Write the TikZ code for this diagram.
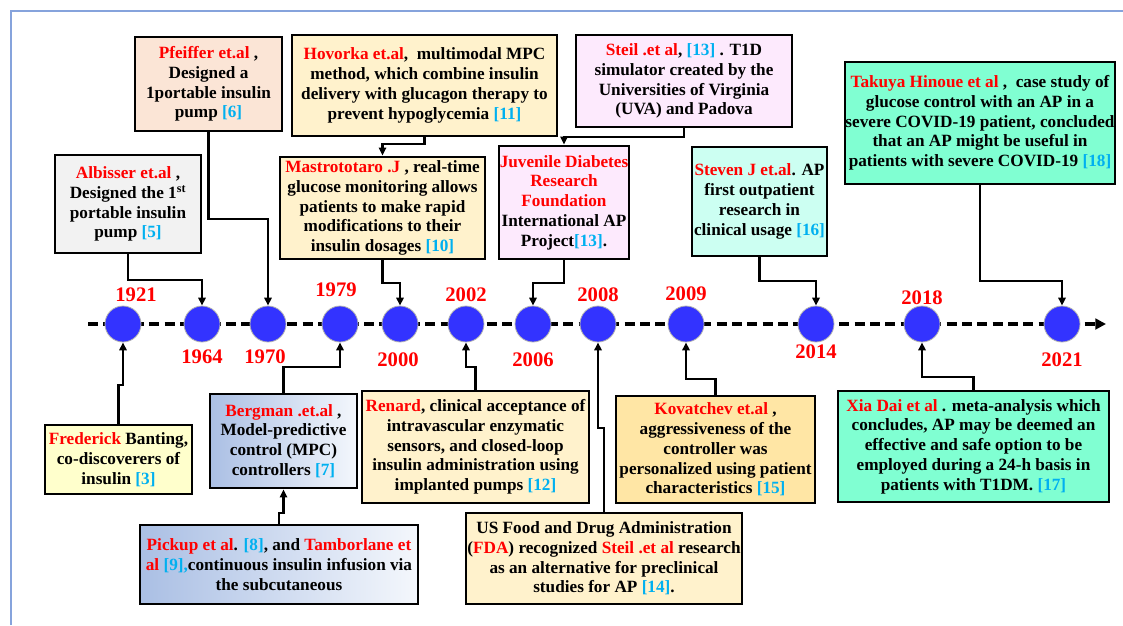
\documentclass[tikz,border=0pt]{standalone}
\usepackage{fontspec}
\setmainfont{Liberation Serif}
\usetikzlibrary{arrows.meta}

\definecolor{tred}{HTML}{FF0000}
\definecolor{tblue}{HTML}{00B0F0}
\definecolor{dotblue}{HTML}{3333FF}
\definecolor{frameblue}{HTML}{86A3DC}
\definecolor{peach}{HTML}{FBE5D6}
\definecolor{lgray}{HTML}{F2F2F2}
\definecolor{beige}{HTML}{FFF2CC}
\definecolor{pinkish}{HTML}{FDEAFD}
\definecolor{paleaqua}{HTML}{CCFFF2}
\definecolor{aqua}{HTML}{80FFD2}
\definecolor{gold}{HTML}{FFE6A5}
\definecolor{lyellow}{HTML}{FFFFCC}
\definecolor{steelA}{HTML}{AABFE4}
\definecolor{steelB}{HTML}{F4F7FC}

\newcommand\nm[1]{\textcolor{tred}{#1}}
\newcommand\refno[1]{\textcolor{tblue}{#1}}

\tikzset{
  box/.style={draw=black, line width=2.2pt, inner sep=0pt, align=center,
    font=\bfseries\fontsize{12.9}{14.8}\selectfont},
  sz/.style 2 args={minimum width=#1*0.75pt, minimum height=#2*0.75pt},
  conn/.style={line width=2.1pt, -{Triangle[length=6pt,width=5.5pt]}},
  dot/.style={circle, fill=dotblue, draw=gray!60, line width=0.6pt,
    minimum size=27pt, inner sep=0pt},
  yr/.style={text=tred, font=\bfseries\fontsize{15.5}{18}\selectfont, inner sep=0pt},
  timeline/.style={line width=3pt, dash pattern=on 7.5pt off 4pt,
    -{Triangle[length=8pt,width=8pt]}},
  frame/.style={draw=frameblue, line width=1.3pt},
}

\begin{document}
\begin{tikzpicture}[x=0.75pt,y=-0.75pt]
\useasboundingbox (0,0) rectangle (1123,625);

% open frame
\draw[frame] (11,625) -- (11,11) -- (1123,11);

% time axis
\coordinate (tl0) at (88,324);
\coordinate (tl1) at (1106,324);
\draw[timeline] (tl0) -- (tl1);

% year markers
\foreach \yy/\xx in {1921/123,1964/202,1970/268,1979/340,2000/400,2002/466,
                     2006/533,2008/598,2009/686,2014/816,2018/922,2021/1062}
  \node[dot] (c\yy) at (\xx,324) {};

% year labels
\node[yr] (y1921) at (136,295) {1921};
\node[yr] (y1964) at (202,357) {1964};
\node[yr] (y1970) at (265,357) {1970};
\node[yr] (y1979) at (336,290) {1979};
\node[yr] (y2000) at (398,360) {2000};
\node[yr] (y2002) at (466,295) {2002};
\node[yr] (y2006) at (533,360) {2006};
\node[yr] (y2008) at (598,295) {2008};
\node[yr] (y2009) at (686,294) {2009};
\node[yr] (y2014) at (816,352) {2014};
\node[yr] (y2018) at (922,298) {2018};
\node[yr] (y2021) at (1062,360) {2021};

% events above the axis
\node[box, sz={147}{94}, fill=peach] (pf) at (208.5,84)
  {\nm{Pfeiffer et.al} ,\\ Designed a\\ 1portable insulin\\ pump \refno{[6]}};
\node[box, sz={146}{98}, fill=lgray] (alb) at (128,204)
  {\nm{Albisser et.al} ,\\ Designed the 1\textsuperscript{st}\\ portable insulin\\ pump \refno{[5]}};
\node[box, sz={265}{101}, fill=beige] (hov) at (424.5,85.5)
  {\nm{Hovorka et.al},\ \ multimodal MPC\\ method, which combine insulin\\ delivery with glucagon therapy to\\ prevent hypoglycemia \refno{[11]}};
\node[box, sz={205}{102}, fill=beige] (mas) at (382.5,208)
  {\nm{Mastrototaro .J} , real-time\\ glucose monitoring allows\\ patients to make rapid\\ modifications to their\\ insulin dosages \refno{[10]}};
\node[box, sz={216}{92}, fill=pinkish] (steil) at (684,81)
  {\nm{Steil .et al}, \refno{[13]} . T1D\\ simulator created by the\\ Universities of Virginia\\ (UVA) and Padova};
\node[box, sz={130}{113}, fill=pinkish] (jdrf) at (564,202.5)
  {\nm{Juvenile Diabetes}\\ \nm{Research}\\ \nm{Foundation}\\ International AP\\ Project\refno{[13]}.};
\node[box, sz={135}{109}, fill=paleaqua] (steven) at (759.5,201.5)
  {\nm{Steven J et.al}. AP\\ first outpatient\\ research in\\ clinical usage \refno{[16]}};
\node[box, sz={270}{122}, fill=aqua] (tak) at (980,123)
  {\nm{Takuya Hinoue et al} ,\ \ case study of\\ glucose control with an AP in a\\ severe COVID-19 patient, concluded\\ that an AP might be useful in\\ patients with severe COVID-19 \refno{[18]}};

% events below the axis
\node[box, sz={147}{69}, fill=lyellow] (fred) at (118.5,459.5)
  {\nm{Frederick} Banting,\\ co-discoverers of\\ insulin \refno{[3]}};
\node[box, sz={147}{94}, left color=steelA, right color=steelB] (berg) at (283.5,441)
  {\nm{Bergman .et.al} ,\\ Model-predictive\\ control (MPC)\\ controllers \refno{[7]}};
\node[box, sz={278}{79}, left color=steelA, right color=steelB] (pick) at (279,564.5)
  {\nm{Pickup et al}. \refno{[8]}, and \nm{Tamborlane et}\\ \nm{al} \refno{[9],}continuous insulin infusion via\\ the subcutaneous};
\node[box, sz={227}{112}, fill=beige] (ren) at (475.5,447)
  {\nm{Renard}, clinical acceptance of\\ intravascular enzymatic\\ sensors, and closed-loop\\ insulin administration using\\ implanted pumps \refno{[12]}};
\node[box, sz={276}{91}, fill=beige] (fda) at (604,558.5)
  {US Food and Drug Administration\\ (\nm{FDA}) recognized \nm{Steil .et al} research\\ as an alternative for preclinical\\ studies for AP \refno{[14]}.};
\node[box, sz={199}{107}, fill=gold] (kov) at (715.5,449.5)
  {\nm{Kovatchev et.al} ,\\ aggressiveness of the\\ controller was\\ personalized using patient\\ characteristics \refno{[15]}};
\node[box, sz={271}{111}, fill=aqua] (xia) at (973.5,446.5)
  {\nm{Xia Dai et al} . meta-analysis which\\ concludes, AP may be deemed an\\ effective and safe option to be\\ employed during a 24-h basis in\\ patients with T1DM. \refno{[17]}};

% connectors from the upper events
\draw[conn] (alb.south) -- (alb.south |- 0,280) -| (c1964.north);
\draw[conn] (pf.south) -- (pf.south |- 0,219) -| (c1970.north);
\draw[conn] (hov.south) -- (hov.south |- 0,144) -| (mas.north);
\draw[conn] (mas.south) -- (mas.south |- 0,283) -| (c2000.north);
\draw[conn] (steil.south) -- (steil.south |- 0,137) -| (jdrf.north);
\draw[conn] (jdrf.south) -- (jdrf.south |- 0,283) -| (c2006.north);
\draw[conn] (steven.south) -- (steven.south |- 0,281) -| (c2014.north);
\draw[conn] (tak.south) -- (tak.south |- 0,281) -| (c2021.north);

% connectors from the lower events
\draw[conn] (fred.north) -- (fred.north |- 0,385) -| (c1921.south);
\draw[conn] (pick.north) -- (pick.north |- 0,513) -| (berg.south);
\draw[conn] (berg.north) -- (berg.north |- 0,367) -| (c1979.south);
\draw[conn] (ren.north) -- (ren.north |- 0,367) -| (c2002.south);
\draw[conn] (fda.north) -- (fda.north |- 0,428) -| (c2008.south);
\draw[conn] (kov.north) -- (kov.north |- 0,379) -| (c2009.south);
\draw[conn] (xia.north) -- (xia.north |- 0,377) -| (c2018.south);
\end{tikzpicture}
\end{document}
